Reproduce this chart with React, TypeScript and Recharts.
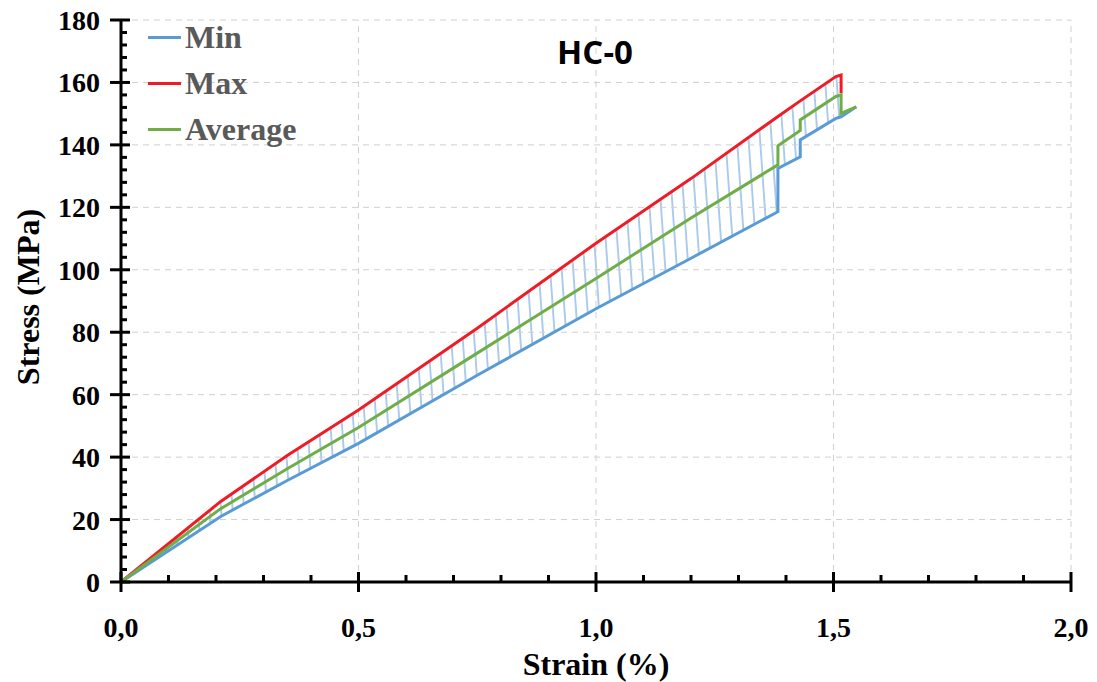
import { ComposedChart, Line, Area, XAxis, YAxis, ReferenceLine, Legend } from 'recharts';

// strain (%) shared by all three curves; repeated values are the vertical jumps
const strain = [0, 0.21, 0.35, 0.5, 0.75, 1.0, 1.2, 1.383, 1.383, 1.43, 1.43, 1.505, 1.516, 1.516, 1.548];
const minStress = [0, 21, 32.5, 44.4, 66.2, 87.5, 103.7, 118.6, 132.5, 136.2, 141.6, 148.5, 149, 149, 152.2];
const maxStress = [0, 25.8, 40.5, 55.1, 81.3, 108.5, 129.2, 149.1, 149.1, 154.1, 154.1, 161.9, 162.4, 156.5, null];
const avgStress = [0, 23.5, 36.3, 49.5, 73.3, 97.2, 116.6, 133.6, 139.7, 144.6, 148, 155.5, 156, 150.1, 152.2];

const seriesNames = ['Min', 'Max', 'Average'];

const xMajor = [0, 0.5, 1.0, 1.5, 2.0];
const xTicks = [0, 0.1, 0.2, 0.3, 0.4, 0.5, 0.6, 0.7, 0.8, 0.9, 1.0, 1.1, 1.2, 1.3, 1.4, 1.5, 1.6, 1.7, 1.8, 1.9, 2.0];
const yMajor = [0, 20, 40, 60, 80, 100, 120, 140, 160, 180];

const yTicks: number[] = [];
yMajor.forEach((v, i) => {
  yTicks.push(v);
  if (i < yMajor.length - 1) for (let k = 1; k < 5; k++) yTicks.push(v + k * 4);
});

const data = strain.map((s, i) => ({
  strain: s,
  min: minStress[i],
  max: maxStress[i],
  avg: avgStress[i],
  band: maxStress[i] == null ? null : [minStress[i], maxStress[i]],
}));

const BLUE = '#5B9BD5';
const RED = '#EE1C25';
const GREEN = '#70AD47';
const SERIF = '"Liberation Serif", "Times New Roman", serif';

const isMajor = (v: number, step: number) => Math.abs(v / step - Math.round(v / step)) < 1e-6;

const XTick = (props: any) => {
  const { x, y, payload } = props;
  const v = payload.value as number;
  const major = isMajor(v, 0.5);
  return (
    <g>
      {major ? (
        <line x1={x} x2={x} y1={y - 10} y2={y + 10} stroke="#000" strokeWidth={3} />
      ) : (
        <line x1={x} x2={x} y1={y - 7} y2={y} stroke="#000" strokeWidth={3} />
      )}
      {major && (
        <text x={x} y={y + 55} textAnchor="middle" fontFamily={SERIF} fontWeight="bold" fontSize={28} fill="#000">
          {v.toFixed(1).replace('.', ',')}
        </text>
      )}
    </g>
  );
};

const YTick = (props: any) => {
  const { x, y, payload } = props;
  const v = payload.value as number;
  const major = isMajor(v, 20);
  return (
    <g>
      {major ? (
        <line x1={x - 11} x2={x + 9} y1={y} y2={y} stroke="#000" strokeWidth={3} />
      ) : (
        <line x1={x} x2={x + 6} y1={y} y2={y} stroke="#000" strokeWidth={3} />
      )}
      {major && (
        <text x={x - 21} y={y + 10} textAnchor="end" fontFamily={SERIF} fontWeight="bold" fontSize={28} fill="#000">
          {v}
        </text>
      )}
    </g>
  );
};

const LegendBox = (props: any) => {
  const items = (props.payload || [])
    .filter((p: any) => seriesNames.includes(p.value))
    .sort((a: any, b: any) => seriesNames.indexOf(a.value) - seriesNames.indexOf(b.value));
  return (
    <div>
      {items.map((p: any) => (
        <div key={p.value} style={{ display: 'flex', alignItems: 'center', height: 46 }}>
          <span style={{ display: 'inline-block', width: 33, height: 3, background: p.color, marginRight: 4 }} />
          <span style={{ fontFamily: SERIF, fontWeight: 'bold', fontSize: 32, color: '#595959', lineHeight: '32px' }}>
            {p.value}
          </span>
        </div>
      ))}
    </div>
  );
};

export default function App() {
  return (
    <div style={{ position: 'absolute', left: 0, top: 0, width: 1097, height: 682, background: '#fff' }}>
      <ComposedChart width={1097} height={682} data={data} margin={{ top: 20, right: 26, bottom: 0, left: 0 }}>
        <defs>
          <pattern id="hatch" patternUnits="userSpaceOnUse" width={11.5} height={30} patternTransform="rotate(-4)">
            <line x1={1} x2={1} y1={0} y2={30} stroke="#4A90D9" strokeWidth={1.5} />
          </pattern>
        </defs>
        {xMajor.slice(1).map((v) => (
          <ReferenceLine key={'x' + v} x={v} stroke="#D0D0D0" strokeDasharray="6 5" strokeWidth={1} />
        ))}
        {yMajor.slice(1).map((v) => (
          <ReferenceLine key={'y' + v} y={v} stroke="#D0D0D0" strokeDasharray="6 5" strokeWidth={1} />
        ))}
        <XAxis
          type="number"
          dataKey="strain"
          domain={[0, 2]}
          ticks={xTicks}
          interval={0}
          tickSize={0}
          tickMargin={0}
          tickLine={false}
          tick={<XTick />}
          height={100}
          axisLine={{ stroke: '#000', strokeWidth: 3 }}
          label={(p: any) => {
            const vb = p.viewBox;
            return (
              <text x={vb.x + vb.width / 2} y={vb.y + 93} textAnchor="middle" fontFamily={SERIF} fontWeight="bold" fontSize={32} fill="#000">
                Strain (%)
              </text>
            );
          }}
        />
        <YAxis
          type="number"
          domain={[0, 180]}
          ticks={yTicks}
          interval={0}
          tickSize={0}
          tickMargin={0}
          tickLine={false}
          tick={<YTick />}
          width={121}
          axisLine={{ stroke: '#000', strokeWidth: 3 }}
          label={(p: any) => {
            const vb = p.viewBox;
            const cy = vb.y + vb.height / 2 - 4;
            return (
              <text x={39} y={cy} transform={`rotate(-90 39 ${cy})`} textAnchor="middle" fontFamily={SERIF} fontWeight="bold" fontSize={32} fill="#000">
                Stress (MPa)
              </text>
            );
          }}
        />
        <Legend
          layout="vertical"
          align="center"
          verticalAlign="middle"
          content={<LegendBox />}
          wrapperStyle={{ left: 148, top: 14, width: 'auto' }}
        />
        <Area dataKey="band" stroke="none" fill="url(#hatch)" isAnimationActive={false} legendType="none" activeDot={false} />
        <Line name="Min" dataKey="min" stroke={BLUE} strokeWidth={3} dot={false} isAnimationActive={false} />
        <Line name="Max" dataKey="max" stroke={RED} strokeWidth={3} dot={false} isAnimationActive={false} />
        <Line name="Average" dataKey="avg" stroke={GREEN} strokeWidth={3} dot={false} isAnimationActive={false} />
      </ComposedChart>
      <div
        style={{
          position: 'absolute',
          left: 495,
          width: 200,
          top: 35,
          textAlign: 'center',
          fontFamily: '"Open Sans", sans-serif',
          fontWeight: 'bold',
          fontSize: 33,
          lineHeight: '33px',
          color: '#000',
        }}
      >
        HC-0
      </div>
    </div>
  );
}
